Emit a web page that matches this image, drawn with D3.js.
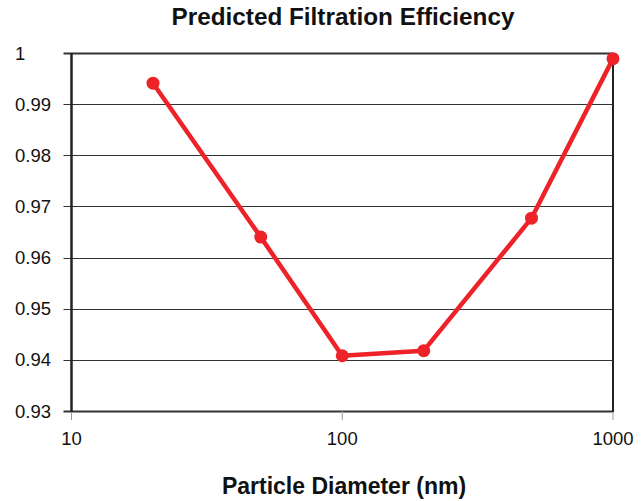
<!DOCTYPE html>
<html>
<head>
<meta charset="utf-8">
<script src="https://cdn.jsdelivr.net/npm/d3@7"></script>
<style>
  body { margin: 0; background: #fff; }
  text { font-family: "Liberation Sans", Arial, sans-serif; fill: #111; }
</style>
</head>
<body>
<div id="chart"></div>
<script>
const diameters = [20, 50, 100, 200, 500, 1000];
const efficiency = [0.9941, 0.9640, 0.9408, 0.9418, 0.9677, 0.9989];
const yTicks = [0.93, 0.94, 0.95, 0.96, 0.97, 0.98, 0.99, 1];
const xTicks = [10, 100, 1000];

const width = 642;
const height = 501;
const margin = { top: 53, right: 29, bottom: 90, left: 71.5 };

const x = d3.scaleLog().domain([10, 1000]).range([margin.left, width - margin.right]);
const y = d3.scaleLinear().domain([0.93, 1]).range([height - margin.bottom, margin.top]);

const svg = d3.select("#chart")
  .append("svg")
  .attr("width", width)
  .attr("height", height);

// grid lines
svg.append("g")
  .selectAll("line")
  .data(yTicks)
  .join("line")
  .attr("x1", margin.left - 8)
  .attr("x2", width - margin.right)
  .attr("y1", (d) => Math.round(y(d)) + 0.5)
  .attr("y2", (d) => Math.round(y(d)) + 0.5)
  .attr("stroke", "#333")
  .attr("stroke-width", (d) => (d === 1 || d === 0.93 ? 2 : 1.2));

// y labels (left aligned like the original)
svg.append("g")
  .selectAll("text")
  .data(yTicks)
  .join("text")
  .attr("x", 15)
  .attr("y", (d) => y(d) + 6.5)
  .style("font-size", "18.5px")
  .text((d) => d3.format("")(d));

// x ticks + labels
svg.append("g")
  .selectAll("line")
  .data(xTicks)
  .join("line")
  .attr("x1", (d) => x(d))
  .attr("x2", (d) => x(d))
  .attr("y1", y(0.93))
  .attr("y2", y(0.93) + 9)
  .attr("stroke", "#999")
  .attr("stroke-width", 1);

svg.append("g")
  .selectAll("text")
  .data(xTicks)
  .join("text")
  .attr("x", (d) => x(d))
  .attr("y", y(0.93) + 34)
  .attr("text-anchor", "middle")
  .style("font-size", "18.5px")
  .text((d) => d);

// frame
svg.append("line")
  .attr("x1", margin.left).attr("x2", margin.left)
  .attr("y1", margin.top).attr("y2", y(0.93) + 1)
  .attr("stroke", "#222").attr("stroke-width", 2.5);
svg.append("line")
  .attr("x1", width - margin.right).attr("x2", width - margin.right)
  .attr("y1", margin.top).attr("y2", y(0.93) + 1)
  .attr("stroke", "#222").attr("stroke-width", 2);

// series
const line = d3.line()
  .x((d, i) => x(diameters[i]))
  .y((d) => y(d));

svg.append("path")
  .datum(efficiency)
  .attr("d", line)
  .attr("fill", "none")
  .attr("stroke", "#ee2229")
  .attr("stroke-width", 4.5)
  .attr("stroke-linejoin", "round");

svg.append("g")
  .selectAll("circle")
  .data(efficiency)
  .join("circle")
  .attr("cx", (d, i) => x(diameters[i]))
  .attr("cy", (d) => y(d))
  .attr("r", 6.5)
  .attr("fill", "#ee2229");

// titles
svg.append("text")
  .attr("x", 343)
  .attr("y", 25)
  .attr("text-anchor", "middle")
  .style("font-size", "24.3px")
  .style("font-weight", "bold")
  .text("Predicted Filtration Efficiency");

svg.append("text")
  .attr("x", 344)
  .attr("y", 494)
  .attr("text-anchor", "middle")
  .style("font-size", "23px")
  .style("font-weight", "bold")
  .text("Particle Diameter (nm)");
</script>
</body>
</html>
